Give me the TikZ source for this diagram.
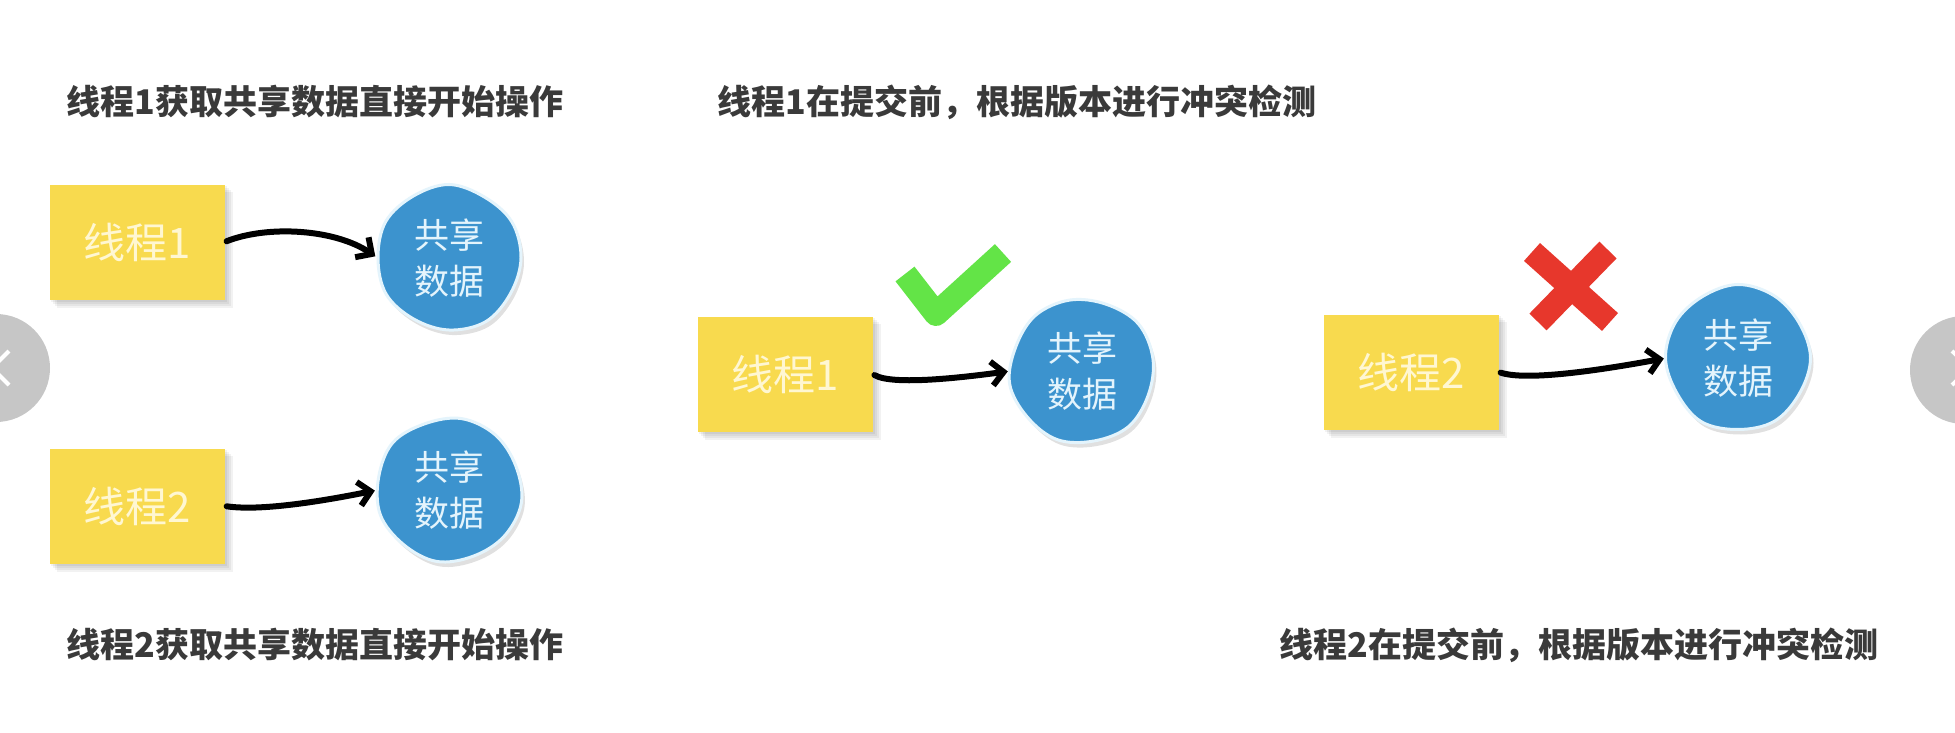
\documentclass[tikz,border=0pt]{standalone}
\usepackage{fontspec}
\newfontfamily\cjk{Noto Sans CJK SC}
\usetikzlibrary{arrows.meta,backgrounds,calc}
\definecolor{ybox}{HTML}{F8DA4E}
\definecolor{ytext}{HTML}{FFF7D2}
\definecolor{bfill}{HTML}{3C93CE}
\definecolor{bedge}{HTML}{E4F4FC}
\definecolor{btext}{HTML}{E4F4FC}
\definecolor{okgreen}{HTML}{63E447}
\definecolor{nored}{HTML}{E7372C}
\definecolor{navgray}{HTML}{C6C6C6}
\definecolor{titlegray}{HTML}{3A3A3A}
\newcommand\blobshape{plot[smooth cycle, tension=0.6] coordinates {(0:72) (30:71) (60:73.5) (90:72) (120:70.5) (150:72.5) (180:71) (210:73) (240:71.5) (270:73.5) (300:70.5) (330:72.5)}}
\begin{document}
\begin{tikzpicture}[x=1pt,y=-1pt,
  title/.style={font=\cjk\bfseries\fontsize{34}{38}\selectfont, text=titlegray, inner sep=0pt},
  thread/.style={rectangle, fill=ybox, minimum width=175pt, minimum height=115pt, inner sep=0pt, font=\cjk\fontsize{42}{46}\selectfont, text=ytext},
  data/.style={circle, minimum size=142pt, inner sep=0pt, align=center, font=\cjk\fontsize{35}{46}\selectfont, text=btext},
  flow/.style={line width=6pt, line cap=round, shorten >=3pt, shorten <=2pt, -{Straight Barb[length=12pt,width=24pt]}},
  okstroke/.style={okgreen, line width=24pt, line join=round},
  nostroke/.style={nored, line width=24pt},
  navbtn/.style={fill=navgray},
  navarrow/.style={white, line width=4pt}
]
\useasboundingbox (0,0) rectangle (1955,733);

% titles
\node[title] (h1) at (315,102) {线程1获取共享数据直接开始操作};
\node[title] (h2) at (315,645) {线程2获取共享数据直接开始操作};
\node[title] (h3) at (1017,102) {线程1在提交前，根据版本进行冲突检测};
\node[title] (h4) at (1579,645) {线程2在提交前，根据版本进行冲突检测};

% thread boxes
\node[thread] (t1) at (137,242) {线程1};
\node[thread] (t2) at (137,506) {线程2};
\node[thread] (t3) at (785,374) {线程1};
\node[thread] (t4) at (1411,372) {线程2};

% shared data blobs
\node[data] (d1) at (449,258) {共享\\数据};
\node[data] (d2) at (449,490) {共享\\数据};
\node[data] (d3) at (1082,371) {共享\\数据};
\node[data] (d4) at (1738,358) {共享\\数据};

% arrows
\draw[flow] (t1.east) .. controls +(43,-17) and +(-43,-29) .. (d1.west);
\draw[flow] (t2.east) .. controls +(40,6) and +(-40,8) .. (d2.west);
\draw[flow] (t3.east) .. controls +(20,12) and +(-45,6) .. (d3.west);
\draw[flow] (t4.east) .. controls +(30,10) and +(-55,10) .. (d4.west);

% check and cross
\draw[okstroke] (905,274) -- (936,314) -- (1003,253);
\draw[nostroke] (1532,252) -- (1610,322);
\draw[nostroke] (1608,250) -- (1538,322);

% carousel buttons
\fill[navbtn] (-4,368) circle[radius=54];
\draw[navarrow] (9,351) -- (-8,368) -- (9,385);
\fill[navbtn] (1964,370) circle[radius=54];
\draw[navarrow] (1952,351) -- (1970,368) -- (1952,385);

\begin{scope}[on background layer]
  \fill[white] (0,0) rectangle (1955,733);
  \foreach \t in {t1,t2,t3,t4}{
    \foreach \s in {2,4,6,8}{
      \fill[black,opacity=0.05] ($(\t.north west)+(\s,\s)$) rectangle ($(\t.south east)+(\s,\s)$);
    }
  }
  \foreach \b/\r in {d1/0,d2/50,d3/100,d4/150}{
    \fill[black,opacity=0.12,shift={($(\b.center)+(3,5)$)},rotate=\r] \blobshape;
    \filldraw[fill=bfill,draw=bedge,line width=3pt,shift={(\b.center)},rotate=\r] \blobshape;
  }
\end{scope}
\end{tikzpicture}
\end{document}
